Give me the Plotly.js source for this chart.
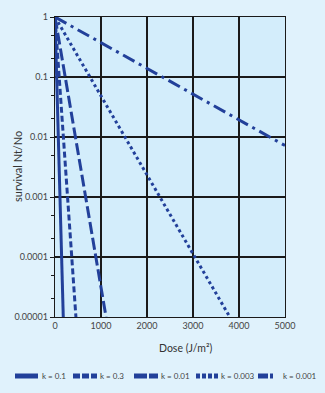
<!DOCTYPE html>
<html>
<head>
<meta charset="utf-8">
<script src="https://cdn.plot.ly/plotly-3.0.1.min.js"></script>
<style>html,body{margin:0;padding:0;background:#e0f2fc;}#chart{width:325px;height:393px;}</style>
</head>
<body>
<div id="chart"></div>
<script>
// Data (start and end of each straight survival line)
const seriesNames = ["k = 0.1", "k = 0.3", "k = 0.01", "k = 0.003", "k = 0.001"];
const doseK01 = [0, 180];
const survK01 = [1, 0.00001];
const doseK03 = [0, 455];
const survK03 = [1, 0.00001];
const doseK001 = [0, 1110];
const survK001 = [1, 0.00001];
const doseK0003 = [0, 3800];
const survK0003 = [1, 0.00001];
const doseK0001 = [0, 5000];
const survK0001 = [1, 0.0072];
const xTickVals = [0, 1000, 2000, 3000, 4000, 5000];
const xTickText = ["0", "1000", "2000", "3000", "4000", "5000"];
const yTickVals = [1, 0.1, 0.01, 0.001, 0.0001, 0.00001];
const yTickText = ["1", "0.1", "0.01", "0.001", "0.0001", "0.00001"];
const xTitle = "Dose (J/m²)";
const yTitle = "survival Nt/No";

const lineColor = "#22409a";
const dashes = ["solid", "6px,3px", "12px,4px", "3px,3px", "13px,5px,3px,5px"];
const xs = [doseK01, doseK03, doseK001, doseK0003, doseK0001];
const ys = [survK01, survK03, survK001, survK0003, survK0001];

const traces = seriesNames.map((n, i) => ({
  type: "scatter", mode: "lines", name: n, x: xs[i], y: ys[i],
  line: {color: lineColor, width: 3, dash: dashes[i]}, showlegend: false
}));

// Custom legend row (paper coordinates)
const legSym = [[15, 38], [73, 97], [134, 158], [196, 218], [258, 273]];
const legText = [40, 98, 159, 219, 281];
const pl = 55, pw = 230, pt = 17, ph = 300;
const px = v => (v - pl) / pw;
const py = v => (pt + ph - v) / ph;
const legY = py(376);
const shapes = [];
const annotations = [];
const legDash = ["solid", "7px,2px", "13px,2px", "4px,2px", "10px,2px,5px,2px"];
seriesNames.forEach((n, i) => {
  shapes.push({type: "line", xref: "paper", yref: "paper", x0: px(legSym[i][0]), x1: px(legSym[i][1]),
    y0: legY, y1: legY, line: {color: lineColor, width: 5, dash: legDash[i]}});
  annotations.push({xref: "paper", yref: "paper", x: px(legText[i]), y: legY, xanchor: "left", yanchor: "middle",
    text: n, showarrow: false, font: {family: "Lato, sans-serif", size: 8, color: "#444"}});
});
// Axis titles
annotations.push({xref: "paper", yref: "paper", x: px(185), y: py(348), xanchor: "center", yanchor: "middle",
  text: xTitle, showarrow: false, font: {family: "Lato, sans-serif", size: 10.5, color: "#333"}});
annotations.push({xref: "paper", yref: "paper", x: px(17), y: py(167), xanchor: "center", yanchor: "middle",
  textangle: -90, text: yTitle, showarrow: false, font: {family: "Lato, sans-serif", size: 11, color: "#333"}});

const layout = {
  width: 325, height: 393,
  margin: {l: pl, r: 325 - pl - pw, t: pt, b: 393 - pt - ph},
  paper_bgcolor: "#e0f2fc", plot_bgcolor: "#d3edfb",
  font: {family: "Lato, sans-serif", size: 9, color: "#444"},
  xaxis: {
    range: [0, 5000], tickvals: xTickVals, ticktext: xTickText,
    showgrid: true, gridcolor: "#1a1a1a", gridwidth: 1.3,
    showline: true, linecolor: "#1a1a1a", linewidth: 1.3, mirror: true,
    ticks: "", zeroline: false
  },
  yaxis: {
    type: "log", range: [-5, 0], tickvals: yTickVals, ticktext: yTickText,
    showgrid: true, gridcolor: "#1a1a1a", gridwidth: 1.3,
    showline: true, linecolor: "#1a1a1a", linewidth: 1.3, mirror: true,
    ticks: "outside", ticklen: 4, tickcolor: "#1a1a1a", tickwidth: 1,
    minor: {ticks: "outside", ticklen: 3, tickcolor: "#1a1a1a", tickwidth: 1, showgrid: false},
    zeroline: false
  },
  shapes: shapes, annotations: annotations, showlegend: false
};

Plotly.newPlot("chart", traces, layout, {displayModeBar: false, staticPlot: true});
</script>
</body>
</html>
